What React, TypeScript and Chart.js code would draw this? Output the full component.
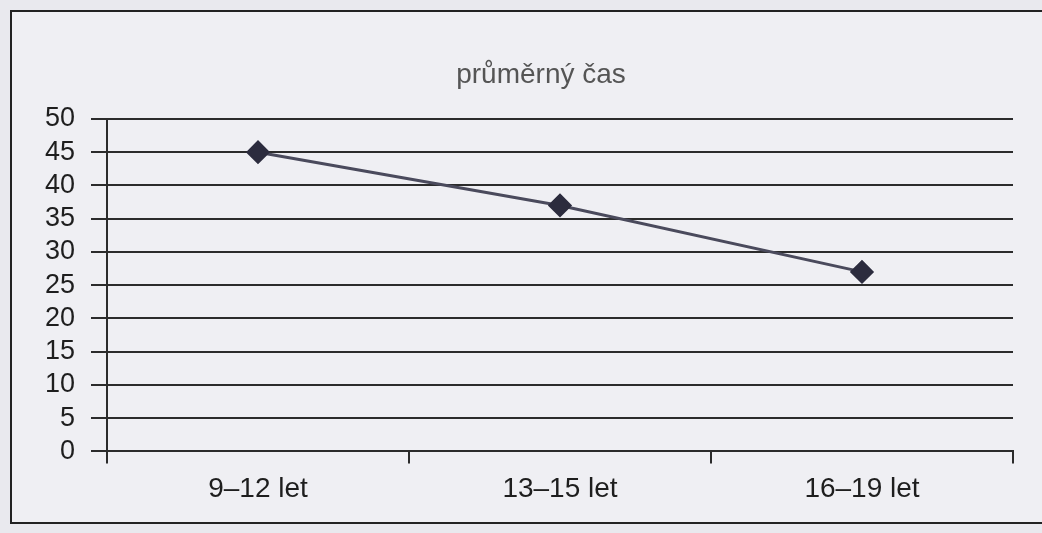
import React, { useEffect, useRef } from "react";
import { Chart, registerables } from "chart.js";

Chart.register(...registerables);

const categories = ["9–12 let", "13–15 let", "16–19 let"];
const averageTime = [45, 37, 27];
const chartTitle = "průměrný čas";
const yMin = 0;
const yMax = 50;
const yStep = 5;

const FONT = "'Liberation Sans', Arial, Helvetica, sans-serif";

const titlePlugin = {
  id: "offsetTitle",
  afterDraw(chart: any) {
    const { ctx, chartArea } = chart;
    ctx.save();
    ctx.font = `28px ${FONT}`;
    ctx.fillStyle = "#555";
    ctx.textAlign = "center";
    ctx.textBaseline = "middle";
    const cx = (chartArea.left + chartArea.right) / 2 - 19;
    ctx.fillText(chartTitle, cx, chartArea.top - 44);
    ctx.restore();
  },
};

export default function App() {
  const canvasRef = useRef<HTMLCanvasElement | null>(null);

  useEffect(() => {
    document.body.style.margin = "0";
    document.body.style.background = "#e9e9ee";
    const ctx = canvasRef.current;
    if (!ctx) return;
    const chart = new Chart(ctx, {
      type: "line",
      data: {
        labels: categories,
        datasets: [
          {
            label: chartTitle,
            data: averageTime,
            borderColor: "#4a4a5c",
            borderWidth: 3,
            pointStyle: "rectRot",
            pointRadius: 10,
            pointBackgroundColor: "#2c2c3e",
            pointBorderColor: "#2c2c3e",
            tension: 0,
          },
        ],
      },
      options: {
        animation: false,
        responsive: false,
        layout: { padding: { left: 0, right: 29, top: 119, bottom: 18 } },
        plugins: {
          legend: { display: false },
          tooltip: { enabled: false },
          title: { display: false },
        },
        scales: {
          x: {
            offset: true,
            grid: {
              offset: true,
              drawOnChartArea: false,
              drawTicks: true,
              tickLength: 12,
              color: "#2b2b2b",
              lineWidth: 2,
            },
            border: { display: true, color: "#2b2b2b", width: 2 },
            ticks: {
              color: "#1e1e1e",
              padding: 9,
              font: { family: FONT, size: 28, lineHeight: 1.2 },
            },
          },
          y: {
            min: yMin,
            max: yMax,
            afterFit: (scale: any) => {
              scale.width = 107;
            },
            grid: {
              color: "#2b2b2b",
              lineWidth: 2,
              drawTicks: true,
              tickLength: 16,
            },
            border: { display: true, color: "#2b2b2b", width: 2 },
            ticks: {
              stepSize: yStep,
              autoSkip: false,
              color: "#1e1e1e",
              padding: 16,
              font: { family: FONT, size: 27, lineHeight: 1 },
            },
          },
        },
      },
      plugins: [titlePlugin],
    } as any);
    return () => chart.destroy();
  }, []);

  return (
    <div style={{ position: "relative", width: 1042, height: 533, background: "#e9e9ee", overflow: "hidden" }}>
      <div
        style={{
          position: "absolute",
          left: 10,
          top: 10,
          width: 1040,
          height: 510,
          borderLeft: "2px solid #222",
          borderTop: "2px solid #222",
          borderBottom: "2px solid #222",
          background: "#efeff3",
        }}
      />
      <canvas ref={canvasRef} width={1042} height={533} style={{ position: "absolute", left: 0, top: 0 }} />
    </div>
  );
}
